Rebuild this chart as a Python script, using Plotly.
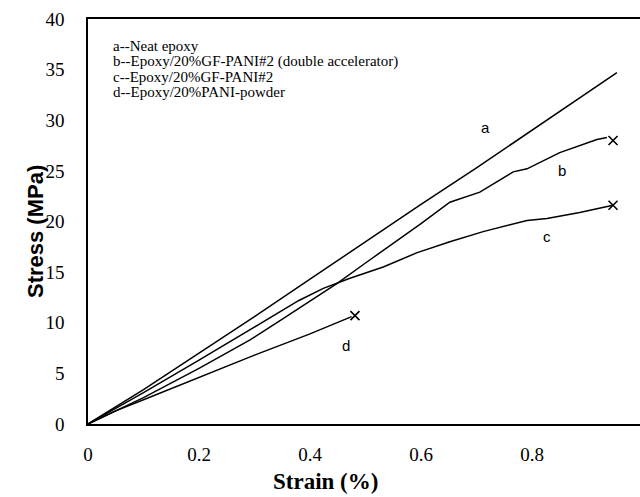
import plotly.graph_objects as go

# ---- data ----
a_x = [0, 0.1, 0.2, 0.3, 0.4, 0.5, 0.6, 0.7, 0.8, 0.953]
a_y = [0, 3.4, 7.0, 10.6, 14.3, 18.0, 21.7, 25.3, 29.0, 34.7]

b_x = [0, 0.1, 0.2, 0.292, 0.346, 0.4, 0.449, 0.5, 0.562, 0.6, 0.652, 0.706, 0.766, 0.791, 0.85, 0.917, 0.935]
b_y = [0, 2.6, 5.5, 8.3, 10.2, 12.1, 13.9, 15.9, 18.3, 19.8, 21.9, 22.9, 24.9, 25.2, 26.8, 28.1, 28.3]

c_x = [0, 0.1, 0.2, 0.3, 0.38, 0.424, 0.449, 0.472, 0.532, 0.592, 0.652, 0.712, 0.791, 0.827, 0.886, 0.946]
c_y = [0, 3.1, 6.3, 9.6, 12.2, 13.4, 13.9, 14.4, 15.5, 16.9, 18.0, 19.0, 20.1, 20.3, 20.9, 21.6]

d_x = [0, 0.05, 0.1, 0.2, 0.3, 0.4, 0.475]
d_y = [0, 1.3, 2.4, 4.6, 6.8, 8.9, 10.6]

# failure points marked with "x"
end_x = [0.946, 0.946, 0.481]
end_y = [28.0, 21.6, 10.7]

# curve labels
lab_text = ["a", "b", "c", "d"]
lab_x = [0.717, 0.854, 0.827, 0.465]
lab_y = [29.3, 25.0, 18.5, 7.8]

legend_lines = [
    "a--Neat epoxy",
    "b--Epoxy/20%GF-PANI#2 (double accelerator)",
    "c--Epoxy/20%GF-PANI#2",
    "d--Epoxy/20%PANI-powder",
]
legend_y = [37.3, 35.8, 34.3, 32.8]

x_ticks = [0, 0.2, 0.4, 0.6, 0.8]
x_ticktext = ["0", "0.2", "0.4", "0.6", "0.8"]
y_ticks = [0, 5, 10, 15, 20, 25, 30, 35, 40]

fig = go.Figure()
line_style = dict(color="black", width=1.5)
for xs, ys in [(a_x, a_y), (b_x, b_y), (c_x, c_y), (d_x, d_y)]:
    fig.add_trace(go.Scatter(x=xs, y=ys, mode="lines", line=line_style,
                             showlegend=False, hoverinfo="skip"))
fig.add_trace(go.Scatter(x=end_x, y=end_y, mode="markers",
                         marker=dict(symbol="x-thin", size=9, line=dict(color="black", width=1.6)),
                         showlegend=False, hoverinfo="skip"))

for t, x, y in zip(lab_text, lab_x, lab_y):
    fig.add_annotation(x=x, y=y, text=t, showarrow=False,
                       font=dict(family="Liberation Sans", size=15, color="black"))

for t, y in zip(legend_lines, legend_y):
    fig.add_annotation(x=0.041, y=y, text=t, showarrow=False, xanchor="left", yanchor="middle",
                       font=dict(family="Liberation Serif", size=15, color="black"))

# axis titles
fig.add_annotation(xref="paper", yref="paper", x=0.431, y=-0.143, text="<b>Strain (%)</b>",
                   showarrow=False, xanchor="center", yanchor="middle",
                   font=dict(family="Liberation Serif", size=23, color="black"))
fig.add_annotation(xref="paper", yref="paper", x=-0.096, y=0.474, text="<b>Stress (MPa)</b>",
                   showarrow=False, xanchor="center", yanchor="middle", textangle=-90,
                   font=dict(family="Liberation Sans", size=22, color="black"))

fig.update_layout(
    width=640, height=497,
    margin=dict(l=88, r=0, t=19, b=73),
    plot_bgcolor="white", paper_bgcolor="white",
    xaxis=dict(range=[0, 0.9946], tickvals=x_ticks, ticktext=x_ticktext,
               showgrid=False, zeroline=False, showline=True, mirror=True,
               linecolor="black", linewidth=1.5, ticks="",
               ticklabelstandoff=12,
               tickfont=dict(family="Liberation Serif", size=19, color="black")),
    yaxis=dict(range=[0, 40], tickvals=y_ticks,
               showgrid=False, zeroline=False, showline=True, mirror=False,
               linecolor="black", linewidth=1.5, ticks="",
               ticklabelstandoff=18,
               tickfont=dict(family="Liberation Serif", size=19, color="black")),
)

fig.write_html("out.html")
